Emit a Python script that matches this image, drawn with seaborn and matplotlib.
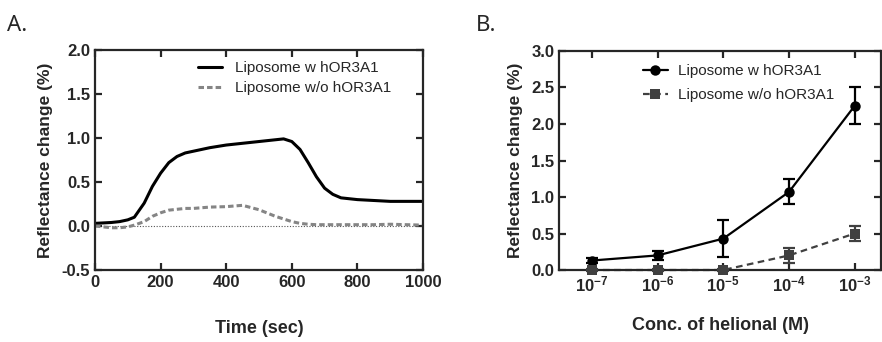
import pandas as pd
import matplotlib.pyplot as plt
import numpy as np
import seaborn as sns

# panel A: time course
time_s = [0, 25, 50, 75, 100, 120, 150, 175, 200, 225, 250, 275, 300, 350, 400,
          450, 500, 550, 575, 600, 625, 650, 675, 700, 725, 750, 800, 850, 900, 950, 1000]
with_or = [0.03, 0.035, 0.04, 0.05, 0.07, 0.1, 0.26, 0.45, 0.6, 0.72, 0.79, 0.83, 0.85,
           0.89, 0.92, 0.94, 0.96, 0.98, 0.99, 0.96, 0.87, 0.72, 0.56, 0.43, 0.36, 0.32,
           0.3, 0.29, 0.28, 0.28, 0.28]
without_or = [0.0, -0.01, -0.02, -0.02, -0.01, 0.01, 0.05, 0.11, 0.15, 0.18, 0.19, 0.2, 0.2,
              0.215, 0.22, 0.235, 0.185, 0.11, 0.08, 0.05, 0.03, 0.02, 0.015, 0.015, 0.015,
              0.015, 0.015, 0.015, 0.02, 0.015, 0.01]

# panel B: dose response
conc = [1e-7, 1e-6, 1e-5, 1e-4, 1e-3]
conc_labels = ["$\\mathbf{10^{-7}}$", "$\\mathbf{10^{-6}}$", "$\\mathbf{10^{-5}}$",
               "$\\mathbf{10^{-4}}$", "$\\mathbf{10^{-3}}$"]
resp_with = [0.13, 0.2, 0.43, 1.07, 2.25]
err_with = [0.03, 0.06, 0.25, 0.17, 0.25]
resp_without = [0.0, 0.0, 0.0, 0.2, 0.5]
err_without = [0.02, 0.02, 0.02, 0.1, 0.1]

lab_with = "Liposome w hOR3A1"
lab_without = "Liposome w/o hOR3A1"

sns.set_style("ticks")
plt.rcParams["font.family"] = ["Liberation Sans", "DejaVu Sans"]
plt.rcParams["mathtext.fontset"] = "custom"
plt.rcParams["mathtext.bf"] = "Liberation Sans:bold"

fig = plt.figure(figsize=(8.82, 3.42), dpi=100)
axA = fig.add_axes([0.1077, 0.2105, 0.3719, 0.6433])
axB = fig.add_axes([0.6338, 0.2105, 0.3651, 0.6404])

dfA = pd.DataFrame({"time": time_s * 2,
                    "resp": with_or + without_or,
                    "group": [lab_with] * len(time_s) + [lab_without] * len(time_s)})
sns.lineplot(data=dfA, x="time", y="resp", hue="group", style="group",
             palette={lab_with: "black", lab_without: "#858585"},
             dashes={lab_with: "", lab_without: (1.8, 1.0)},
             linewidth=2.2, ax=axA)
axA.axhline(0, color="#555555", lw=0.8, ls=(0, (1, 1.5)), zorder=0)
axA.set_xlim(0, 1000)
axA.set_ylim(-0.5, 2.0)
axA.set_xticks([0, 200, 400, 600, 800, 1000])
axA.set_yticks([-0.5, 0.0, 0.5, 1.0, 1.5, 2.0])
axA.yaxis.set_major_formatter(plt.FormatStrFormatter("%.1f"))
axA.set_xlabel("Time (sec)", fontsize=13, fontweight="bold", labelpad=22)
axA.set_ylabel("Reflectance change (%)", fontsize=12.5, fontweight="bold", labelpad=6)
axA.legend(loc="upper left", bbox_to_anchor=(0.314, 0.95), frameon=False, fontsize=11,
           borderaxespad=0, borderpad=0,
           handlelength=1.6, handletextpad=0.85, labelspacing=0.4)

# panel B
dfB = pd.DataFrame({"conc": conc * 2,
                    "resp": resp_with + resp_without,
                    "group": [lab_with] * 5 + [lab_without] * 5})
sns.lineplot(data=dfB, x="conc", y="resp", hue="group", style="group",
             palette={lab_with: "black", lab_without: "#404040"},
             dashes={lab_with: "", lab_without: (3, 2)},
             markers={lab_with: "o", lab_without: "s"},
             markersize=7.5, markeredgewidth=0, linewidth=1.6, ax=axB, clip_on=False)
axB.errorbar(conc, resp_with, yerr=err_with, fmt="none", ecolor="black",
             elinewidth=1.6, capsize=4, capthick=1.6, clip_on=False)
axB.errorbar(conc, resp_without, yerr=err_without, fmt="none", ecolor="#404040",
             elinewidth=1.6, capsize=4, capthick=1.6, clip_on=False, zorder=3)
axB.set_xscale("log")
axB.set_xlim(10 ** -7.5, 10 ** -2.6)
axB.set_ylim(0, 3.0)
axB.set_xticks(conc)
axB.set_xticklabels(conc_labels)
axB.minorticks_off()
axB.set_yticks([0.0, 0.5, 1.0, 1.5, 2.0, 2.5, 3.0])
axB.yaxis.set_major_formatter(plt.FormatStrFormatter("%.1f"))
axB.set_xlabel("Conc. of helional (M)", fontsize=13, fontweight="bold", labelpad=16)
axB.set_ylabel("Reflectance change (%)", fontsize=12.5, fontweight="bold", labelpad=6)
axB.legend(loc="upper left", bbox_to_anchor=(0.26, 0.94), frameon=False, fontsize=11,
           borderaxespad=0, borderpad=0,
           handlelength=1.65, handletextpad=0.65, labelspacing=0.65)

for ax in (axA, axB):
    for sp in ax.spines.values():
        sp.set_linewidth(1.6)
        sp.set_visible(True)
    ax.tick_params(direction="in", length=5, width=1.6, top=True, right=True,
                   labelsize=12)
    for t in ax.get_xticklabels() + ax.get_yticklabels():
        t.set_fontweight("bold")

fig.text(0.008, 0.925, "A.", fontsize=16, family="Noto Sans", va="center")
fig.text(0.54, 0.925, "B.", fontsize=16, family="Noto Sans", va="center")

fig.savefig("out.png", dpi=100)
